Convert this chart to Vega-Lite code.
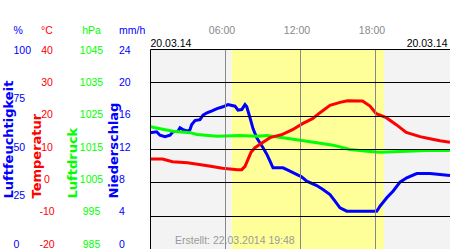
{
  "$schema": "https://vega.github.io/schema/vega-lite/v6.json",
  "width": 300,
  "height": 200,
  "autosize": {"type": "none"},
  "padding": {"left": 150, "top": 49, "right": 0, "bottom": 0},
  "background": "white",
  "config": {"view": {"stroke": "#000000", "strokeWidth": 1}, "font": "Liberation Sans"},
  "title": {"text": "Erstellt: 22.03.2014 19:48", "orient": "bottom", "anchor": "start", "frame": "group", "offset": -14, "dx": 25, "fontSize": 10.5, "fontWeight": "normal", "color": "#999999", "font": "Liberation Sans", "baseline": "top"},
  "datasets": {
    "bg": [
      {"start": 0, "end": 6.53, "kind": "night"},
      {"start": 6.53, "end": 18.72, "kind": "day"},
      {"start": 18.72, "end": 24, "kind": "night"}
    ],
    "temp": [
      {"t": 0, "temp": 7.0}, {"t": 1.0, "temp": 7.0}, {"t": 1.8, "temp": 6.2}, {"t": 3.0, "temp": 5.9},
      {"t": 4.6, "temp": 5.0}, {"t": 5.8, "temp": 4.2}, {"t": 7.0, "temp": 3.8}, {"t": 7.34, "temp": 3.8},
      {"t": 7.6, "temp": 4.8}, {"t": 7.84, "temp": 6.9}, {"t": 8.08, "temp": 9.0}, {"t": 8.4, "temp": 10.4},
      {"t": 8.8, "temp": 11.4}, {"t": 9.6, "temp": 13.4}, {"t": 10.6, "temp": 14.4}, {"t": 11.4, "temp": 15.8},
      {"t": 12.2, "temp": 17.6}, {"t": 13.0, "temp": 19.1}, {"t": 13.6, "temp": 20.9}, {"t": 14.4, "temp": 23.1},
      {"t": 15.2, "temp": 24.0}, {"t": 15.8, "temp": 24.5}, {"t": 17.0, "temp": 24.4}, {"t": 17.6, "temp": 22.9},
      {"t": 18.1, "temp": 20.6}, {"t": 18.9, "temp": 19.4}, {"t": 19.7, "temp": 17.3}, {"t": 20.5, "temp": 15.0},
      {"t": 21.6, "temp": 13.7}, {"t": 22.4, "temp": 13.1}, {"t": 23.2, "temp": 12.5}, {"t": 24.0, "temp": 12.0}
    ],
    "hum": [
      {"t": 0, "hum": 58.1}, {"t": 0.53, "hum": 58.6}, {"t": 0.8, "hum": 56.9}, {"t": 1.2, "hum": 56.1},
      {"t": 1.6, "hum": 56.9}, {"t": 1.84, "hum": 58.6}, {"t": 2.24, "hum": 58.9}, {"t": 2.4, "hum": 60.6},
      {"t": 2.64, "hum": 59.7}, {"t": 3.04, "hum": 58.9}, {"t": 3.2, "hum": 59.7}, {"t": 3.34, "hum": 62.2},
      {"t": 3.6, "hum": 64.2}, {"t": 4.0, "hum": 64.7}, {"t": 4.24, "hum": 66.9}, {"t": 4.56, "hum": 68.1},
      {"t": 4.96, "hum": 69.1}, {"t": 5.36, "hum": 70.2}, {"t": 5.84, "hum": 71.1}, {"t": 6.24, "hum": 72.2},
      {"t": 6.8, "hum": 71.4}, {"t": 7.04, "hum": 69.4}, {"t": 7.34, "hum": 69.7}, {"t": 7.6, "hum": 72.2},
      {"t": 7.74, "hum": 71.1}, {"t": 8.0, "hum": 65.6}, {"t": 8.24, "hum": 60.2}, {"t": 8.54, "hum": 55.6},
      {"t": 9.04, "hum": 50.6}, {"t": 9.36, "hum": 47.2}, {"t": 9.6, "hum": 43.9}, {"t": 9.84, "hum": 40.6},
      {"t": 10.64, "hum": 40.6}, {"t": 11.2, "hum": 38.9}, {"t": 11.76, "hum": 37.2}, {"t": 12.1, "hum": 36.2},
      {"t": 12.54, "hum": 33.9}, {"t": 13.34, "hum": 31.7}, {"t": 13.84, "hum": 29.7}, {"t": 14.4, "hum": 27.2},
      {"t": 14.8, "hum": 23.9}, {"t": 15.2, "hum": 20.6}, {"t": 15.74, "hum": 18.9}, {"t": 18.14, "hum": 18.9},
      {"t": 18.4, "hum": 21.4}, {"t": 18.94, "hum": 25.6}, {"t": 19.44, "hum": 28.9}, {"t": 20.0, "hum": 33.4},
      {"t": 20.54, "hum": 35.6}, {"t": 21.34, "hum": 37.7}, {"t": 22.4, "hum": 37.7}, {"t": 24.0, "hum": 36.7}
    ],
    "pres": [
      {"t": 0, "p": 1021.8}, {"t": 0.4, "p": 1021.4}, {"t": 1.84, "p": 1020.3}, {"t": 3.2, "p": 1019.9},
      {"t": 3.76, "p": 1019.35}, {"t": 5.36, "p": 1018.8}, {"t": 7.2, "p": 1019.05}, {"t": 8.56, "p": 1018.8},
      {"t": 9.36, "p": 1019.05}, {"t": 10.64, "p": 1018.35}, {"t": 12.0, "p": 1017.65}, {"t": 13.36, "p": 1016.85},
      {"t": 14.64, "p": 1016.15}, {"t": 16.0, "p": 1014.85}, {"t": 17.36, "p": 1014.35}, {"t": 18.4, "p": 1014.05},
      {"t": 20.56, "p": 1014.35}, {"t": 22.16, "p": 1014.55}, {"t": 24.0, "p": 1014.55}
    ],
    "rain": [
      {"t": 0, "mm": 0}, {"t": 24, "mm": 0}
    ]
  },
  "resolve": {"scale": {"x": "independent", "y": "independent"}},
  "layer": [
    {
      "data": {"name": "bg"},
      "mark": {"type": "rect"},
      "encoding": {
        "x": {"field": "start", "type": "quantitative",
          "scale": {"domain": [0, 24], "nice": false, "zero": false},
          "axis": {"orient": "top", "values": [6, 12, 18], "labelExpr": "(datum.value < 10 ? '0' : '') + datum.value + ':00'",
            "grid": true, "gridColor": "#888888", "gridWidth": 1, "domain": false, "ticks": false, "tickSize": 0,
            "labelPadding": 19, "labelBaseline": "middle", "labelColor": "#888888", "labelFontSize": 10.5, "labelFont": "Liberation Sans",
            "labelOffset": -3.5, "labelOverlap": false, "title": null, "zindex": 1}},
        "x2": {"field": "end"},
        "color": {"field": "kind", "type": "nominal", "scale": {"domain": ["night", "day"], "range": ["#f3f3f3", "#ffff99"]}, "legend": null}
      }
    },
    {
      "data": {"name": "hum"},
      "mark": {"type": "line", "color": "#0000ff", "strokeWidth": 3, "clip": true},
      "encoding": {
        "x": {"field": "t", "type": "quantitative", "scale": {"domain": [0, 24], "nice": false, "zero": false}, "axis": null},
        "y": {"field": "hum", "type": "quantitative", "scale": {"domain": [0, 100], "nice": false, "zero": false},
          "axis": {"orient": "left", "values": [0, 25, 50, 75, 100], "grid": false, "domain": false, "ticks": false, "tickSize": 0,
            "labelAlign": "left", "labelBaseline": "middle", "labelPadding": 137, "labelColor": "#0000ff", "labelFontSize": 10.5,
            "labelFont": "Liberation Sans", "labelOverlap": false, "labelLineHeight": 19.5,
            "labelExpr": "datum.value == 100 ? ['%', '' + datum.value] : '' + datum.value",
            "labelOffset": {"condition": [{"test": "datum.value == 100", "value": -18.5}, {"test": "datum.value == 75", "value": -0.5}, {"test": "datum.value == 50", "value": -2}, {"test": "datum.value == 25", "value": -3.5}], "value": -5},
            "title": "Luftfeuchtigkeit", "titleAngle": 270, "titleAlign": "left", "titleBaseline": "alphabetic",
            "titleX": -138, "titleY": 149, "titleColor": "#0000ff", "titleFont": "DejaVu Sans", "titleFontWeight": "bold", "titleFontSize": 13}}
      }
    },
    {
      "data": {"name": "pres"},
      "mark": {"type": "line", "color": "#00ff00", "strokeWidth": 3, "clip": true},
      "encoding": {
        "x": {"field": "t", "type": "quantitative", "scale": {"domain": [0, 24], "nice": false, "zero": false}, "axis": null},
        "y": {"field": "p", "type": "quantitative", "scale": {"domain": [985, 1045], "nice": false, "zero": false},
          "axis": {"orient": "left", "values": [985, 995, 1005, 1015, 1025, 1035, 1045], "grid": false, "domain": false, "ticks": false, "tickSize": 0,
            "labelAlign": "center", "labelBaseline": "middle", "labelPadding": 59, "labelColor": "#00ff00", "labelFontSize": 10.5,
            "labelFont": "Liberation Sans", "labelOverlap": false, "labelLineHeight": 19.5,
            "labelExpr": "datum.value == 1045 ? ['hPa', '' + datum.value] : '' + datum.value",
            "labelOffset": {"condition": [{"test": "datum.value == 1045", "value": -18.5}, {"test": "datum.value == 1035", "value": 0}, {"test": "datum.value == 1025", "value": -1}, {"test": "datum.value == 1015", "value": -2}, {"test": "datum.value == 1005", "value": -3}, {"test": "datum.value == 995", "value": -4}], "value": -5},
            "title": "Luftdruck", "titleAngle": 270, "titleAlign": "left", "titleBaseline": "alphabetic",
            "titleX": -74, "titleY": 149, "titleColor": "#00ff00", "titleFont": "DejaVu Sans", "titleFontWeight": "bold", "titleFontSize": 13}}
      }
    },
    {
      "data": {"name": "rain"},
      "mark": {"type": "area", "color": "#0000ff", "clip": true},
      "encoding": {
        "x": {"field": "t", "type": "quantitative", "scale": {"domain": [0, 24], "nice": false, "zero": false},
          "axis": {"orient": "top", "values": [0, 24], "labelExpr": "'20.03.14'",
            "grid": true, "gridColor": "#000000", "gridWidth": 1, "domain": false, "ticks": false, "tickSize": 0,
            "labelPadding": 6, "labelBaseline": "middle", "labelColor": "#000000", "labelFontSize": 10.5, "labelFont": "Liberation Sans",
            "labelAlign": {"condition": {"test": "datum.value < 12", "value": "left"}, "value": "right"},
            "labelOffset": {"condition": {"test": "datum.value < 12", "value": 0}, "value": -3},
            "labelOverlap": false, "title": null, "zindex": 1}},
        "y": {"field": "mm", "type": "quantitative", "scale": {"domain": [0, 24], "nice": false, "zero": false},
          "axis": {"orient": "left", "values": [0, 4, 8, 12, 16, 20, 24], "grid": false, "domain": false, "ticks": false, "tickSize": 0,
            "labelAlign": "left", "labelBaseline": "middle", "labelPadding": 31.5, "labelColor": "#0000ff", "labelFontSize": 10.5,
            "labelFont": "Liberation Sans", "labelOverlap": false, "labelLineHeight": 19.5,
            "labelExpr": "datum.value == 24 ? ['mm/h', '' + datum.value] : '' + datum.value",
            "labelOffset": {"condition": [{"test": "datum.value == 24", "value": -18.5}, {"test": "datum.value == 20", "value": 0}, {"test": "datum.value == 16", "value": -1}, {"test": "datum.value == 12", "value": -2}, {"test": "datum.value == 8", "value": -3}, {"test": "datum.value == 4", "value": -4}], "value": -5},
            "title": "Niederschlag", "titleAngle": 270, "titleAlign": "left", "titleBaseline": "alphabetic",
            "titleX": -33, "titleY": 149, "titleColor": "#0000ff", "titleFont": "DejaVu Sans", "titleFontWeight": "bold", "titleFontSize": 13}}
      }
    },
    {
      "data": {"name": "temp"},
      "mark": {"type": "line", "color": "#ff0000", "strokeWidth": 3, "clip": true},
      "encoding": {
        "x": {"field": "t", "type": "quantitative", "scale": {"domain": [0, 24], "nice": false, "zero": false}, "axis": null},
        "y": {"field": "temp", "type": "quantitative", "scale": {"domain": [-20, 40], "nice": false, "zero": false},
          "axis": {"orient": "left", "values": [-20, -10, 0, 10, 20, 30, 40], "grid": true, "gridColor": "#000000", "gridWidth": 1,
            "domain": false, "ticks": false, "tickSize": 0,
            "labelAlign": "center", "labelBaseline": "middle", "labelPadding": 103.5, "labelColor": "#ff0000", "labelFontSize": 10.5,
            "labelFont": "Liberation Sans", "labelOverlap": false, "labelLineHeight": 19.5,
            "labelExpr": "datum.value == 40 ? ['°C', '' + datum.value] : '' + datum.value",
            "labelOffset": {"condition": [{"test": "datum.value == 40", "value": -18.5}, {"test": "datum.value == 30", "value": 0}, {"test": "datum.value == 20", "value": -1}, {"test": "datum.value == 10", "value": -2}, {"test": "datum.value == 0", "value": -3}, {"test": "datum.value == -10", "value": -4}], "value": -5},
            "title": "Temperatur", "titleAngle": 270, "titleAlign": "left", "titleBaseline": "alphabetic",
            "titleX": -110, "titleY": 149, "titleColor": "#ff0000", "titleFont": "DejaVu Sans", "titleFontWeight": "bold", "titleFontSize": 13, "zindex": 1}}
      }
    }
  ]
}
